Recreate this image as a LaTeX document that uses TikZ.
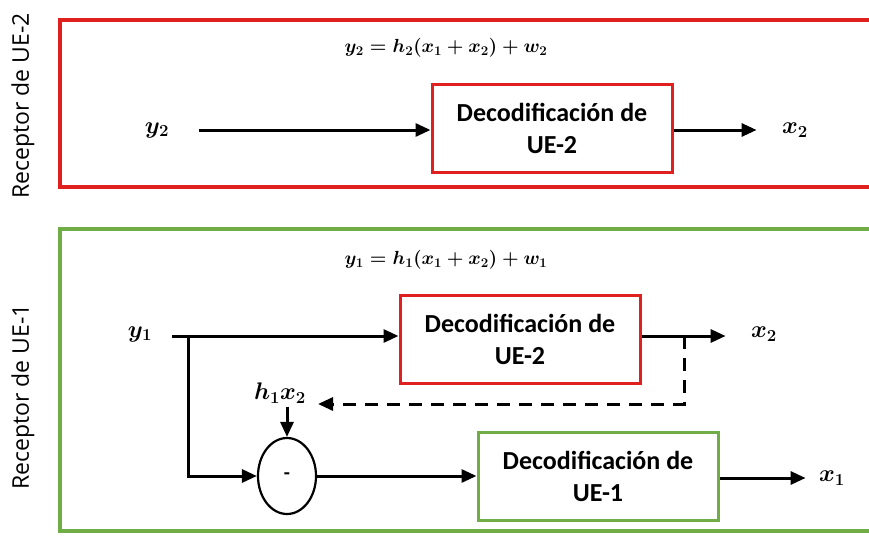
\documentclass[tikz,border=0pt]{standalone}
\usepackage{fix-cm}
\usepackage{amsmath}
\usepackage{fontspec}
\setmainfont{Carlito}
\newfontfamily\rotfont{Open Sans}
\usepackage{tikz}
\usetikzlibrary{arrows.meta,positioning,shapes.geometric}
\definecolor{rojo}{HTML}{E0201E}
\definecolor{verde}{HTML}{70AD47}

\tikzset{
  decod/.style={draw, line width=3pt, minimum width=240pt, minimum height=88pt,
    align=center, font=\bfseries\fontsize{26}{32}\selectfont},
  marco/.style={line width=3.8pt},
  sig/.style={font=\fontsize{24}{24}\selectfont\boldmath},
  ecu/.style={font=\fontsize{19}{19}\selectfont\boldmath},
  rot/.style={rotate=90, font=\rotfont\fontsize{23}{23}\selectfont},
  flecha/.style={->, line width=3pt}
}

\begin{document}
\begin{tikzpicture}[x=1pt, y=-1pt, >={Triangle[length=15pt,width=13pt]}]
  \useasboundingbox (0,0) rectangle (869,535);
  % Receptor de UE-2
  \begin{scope}
    \draw[marco, draw=rojo] (60,20) rectangle (880,187);
    \node[rot] (rotA) at (23,106) {Receptor de UE-2};
    \node[ecu] (ecA) at (446,48) {$y_2 = h_2(x_1+x_2)+w_2$};
    \node[decod, draw=rojo] (decA) at (552,128) {Decodificación de\\UE-2};
    \node[sig] (yA) at (157,130) {$y_2$};
    \node[sig] (xA) at (795,130) {$x_2$};
    \draw[flecha, shorten <=26pt] (yA.east) -- (decA.west |- yA.east);
    \draw[flecha, shorten >=22pt] (decA.east |- xA.west) -- (xA.west);
  \end{scope}
  % Receptor de UE-1
  \begin{scope}
    \draw[marco, draw=verde] (60,229) rectangle (880,531);
    \node[rot] (rotB) at (23,397) {Receptor de UE-1};
    \node[ecu] (ecB) at (446,260) {$y_1 = h_1(x_1+x_2)+w_1$};
    \node[decod, draw=rojo] (decB) at (520,339) {Decodificación de\\UE-2};
    \node[decod, draw=verde] (decC) at (598,476) {Decodificación de\\UE-1};
    \node[ellipse, draw, line width=2.2pt, minimum width=58pt, minimum height=76pt,
      font=\bfseries\fontsize{20}{20}\selectfont] (resta) at (287,476) {-};
    \node[sig] (yB) at (140,334) {$y_1$};
    \node[sig] (xB) at (764,334) {$x_2$};
    \node[sig] (xC) at (832,478) {$x_1$};
    \node[sig] (hx) at (280,393) {$h_1x_2$};
    \coordinate (nudo) at (188,336);
    \coordinate (toma) at (684,336);
    \coordinate (retorno) at (318,404);
    \draw[line width=3pt] (172,336) -- (nudo);
    \draw[flecha] (nudo) -- (decB.west |- nudo);
    \draw[flecha] (nudo) |- (resta.west);
    \draw[flecha] (hx.south -| resta.north) -- (resta.north);
    \draw[flecha] (resta.east) -- (decC.west);
    \draw[flecha, shorten >=22pt] (decB.east |- nudo) -- (xB.west |- nudo);
    \draw[flecha, shorten >=10pt] (decC.east |- xC.west) -- (xC.west);
    \draw[flecha, dash pattern=on 13pt off 9pt] (toma) |- (retorno);
  \end{scope}
\end{tikzpicture}
\end{document}
